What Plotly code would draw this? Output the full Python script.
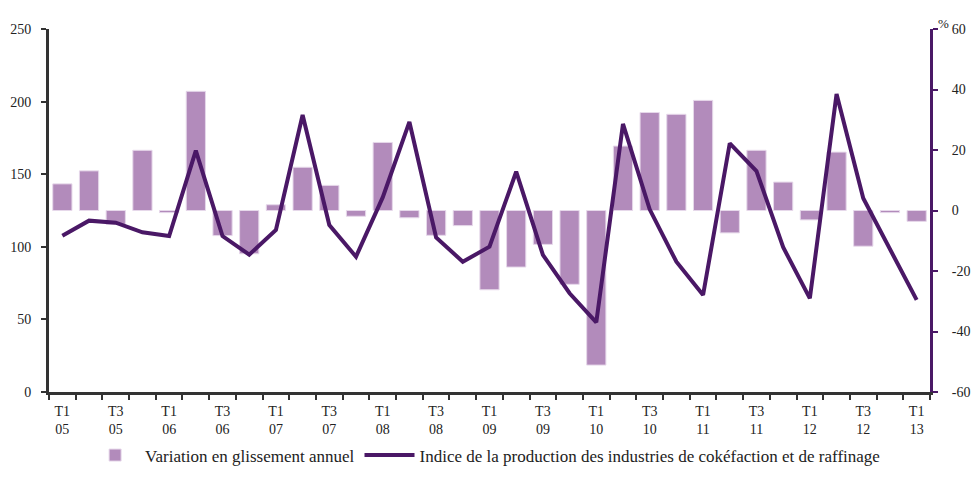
import plotly.graph_objects as go

quarters = [f"T{q} {y:02d}" for y in range(5, 13) for q in range(1, 5)] + ["T1 13"]
tick_labels = ["T1<br>05", "T3<br>05", "T1<br>06", "T3<br>06", "T1<br>07", "T3<br>07",
               "T1<br>08", "T3<br>08", "T1<br>09", "T3<br>09", "T1<br>10", "T3<br>10",
               "T1<br>11", "T3<br>11", "T1<br>12", "T3<br>12", "T1<br>13"]
right_ticks = [-60, -40, -20, 0, 20, 40, 60]
right_tick_text = ["-60", "-40", "-20", "0", "20", "40", "60"]

# Indice de la production (left axis)
index_values = [107.6, 118.0, 116.6, 110.0,
                107.4, 166.2, 107.4, 94.6,
                111.6, 190.8, 115.0, 93.2,
                134.0, 186.0, 106.5, 89.7,
                100.1, 151.7, 94.4, 68.0,
                48.0, 184.6, 125.8, 89.7,
                66.8, 171.3, 152.2, 99.7,
                64.5, 205.2, 133.4, 98.5,
                63.4]

# Variation en glissement annuel, % (right axis)
yoy_change = [8.8, 13.1, -4.6, 19.9,
              -0.7, 39.4, -8.3, -14.3,
              1.9, 14.3, 8.3, -1.9,
              22.5, -2.4, -8.2, -5.0,
              -26.2, -18.7, -11.2, -24.4,
              -51.1, 21.3, 32.4, 31.8,
              36.4, -7.4, 19.9, 9.4,
              -3.1, 19.3, -11.8, -0.7,
              -3.6]

x = list(range(len(quarters)))
FONT = "Liberation Serif"
DARK = "#333333"
PURPLE = "#4A1866"

fig = go.Figure()
fig.add_trace(go.Bar(
    x=x, y=yoy_change, name="Variation en glissement annuel",
    marker=dict(color="#B28BBB", line=dict(color="#E6D8EA", width=1)),
    width=0.72, yaxis="y",
    hovertext=quarters,
))
fig.add_trace(go.Scatter(
    x=x, y=index_values, mode="lines",
    name="Indice de la production des industries de cokéfaction et de raffinage",
    line=dict(color=PURPLE, width=4), yaxis="y2",
    hovertext=quarters,
))

fig.update_layout(
    width=975, height=493,
    margin=dict(l=49, r=45, t=29, b=101, autoexpand=False),
    paper_bgcolor="white", plot_bgcolor="white",
    font=dict(family=FONT, size=14, color="#222222"),
    xaxis=dict(
        range=[-0.5, len(x) - 0.5],
        tickmode="array", tickvals=x[::2], ticktext=tick_labels,
        ticks="", showgrid=False, zeroline=False,
        showline=True, linecolor=DARK, linewidth=3,
        tickfont=dict(family=FONT, size=14),
        ticklabelstandoff=4,
        minor=dict(tickmode="array", tickvals=[i - 0.5 for i in range(len(x) + 1)],
                   ticks="outside", ticklen=5, tickwidth=2, tickcolor=DARK, showgrid=False),
    ),
    yaxis=dict(
        side="right", range=[-60, 60],
        tickmode="array", tickvals=right_ticks, ticktext=right_tick_text,
        showgrid=False, zeroline=False,
        showline=True, linecolor=PURPLE, linewidth=3,
        ticks="outside", ticklen=5, tickwidth=2, tickcolor=PURPLE,
        tickfont=dict(family=FONT, size=14),
        ticklabelstandoff=11,
    ),
    yaxis2=dict(
        overlaying="y", side="left", range=[0, 250], dtick=50,
        showgrid=False, zeroline=False,
        showline=True, linecolor=DARK, linewidth=3,
        ticks="outside", ticklen=5, tickwidth=2, tickcolor=DARK,
        tickfont=dict(family=FONT, size=14),
        ticklabelstandoff=7,
    ),
    legend=dict(
        orientation="h", x=0.495, xanchor="center", y=-0.175, yanchor="middle",
        font=dict(family=FONT, size=17), bgcolor="rgba(0,0,0,0)",
        itemwidth=50,
    ),
    showlegend=True,
    annotations=[dict(text="%", xref="paper", yref="paper", x=1.024, y=1.04,
                      showarrow=False, font=dict(family=FONT, size=13))],
)

# remove the default 8px page margin so the 975x493 figure fills the window exactly
fig.write_html("out.html",
               config={"displayModeBar": False},
               post_script="document.body.style.margin='0';document.body.style.overflow='hidden';")
